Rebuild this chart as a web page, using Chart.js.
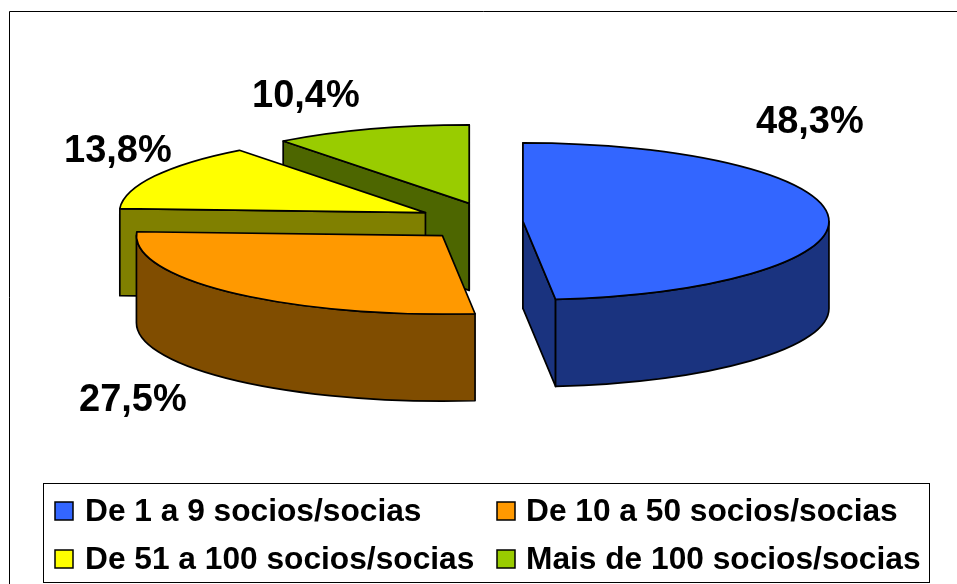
<!DOCTYPE html>
<html>
<head>
<meta charset="utf-8">
<style>html,body{margin:0;padding:0;background:#fff}canvas{display:block}</style>
<script src="https://cdn.jsdelivr.net/npm/chart.js@4/dist/chart.umd.min.js"></script>
</head>
<body>
<canvas id="c" width="957" height="584"></canvas>
<script>
const categories = ['De 1 a 9 socios/socias', 'De 10 a 50 socios/socias', 'De 51 a 100 socios/socias', 'Mais de 100 socios/socias'];
const shares = [48.3, 27.5, 13.8, 10.4];
const explode = [29.4, 74.5, 77, 76];
const topColors = ['#3366FF', '#FF9900', '#FFFF00', '#99CC00'];
const sideColors = ['#1A337F', '#804D00', '#808000', '#4D6600'];
const labelAnchors = [[756, 133], [79, 411], [64, 162], [252, 107]];
const legendCells = [[55, 502, 85, 521], [497, 502, 526, 521], [55, 550, 85, 569], [497, 550, 526, 569]];
const FONT = '"Liberation Sans", Arial, sans-serif';
const SQUASH = 0.2565, DEPTH = 87, RADIUS = 306;

const pie3d = {
  id: 'pie3d',
  beforeDatasetsDraw(chart) {
    const ctx = chart.ctx;
    const arcs = chart.getDatasetMeta(0).data;
    ctx.save();
    ctx.strokeStyle = '#000';
    ctx.lineWidth = 1.7;
    ctx.lineJoin = 'round';
    const paint = (fill) => { ctx.fillStyle = fill; ctx.fill(); ctx.stroke(); };
    [3, 2, 1, 0].forEach((i) => {
      const el = arcs[i];
      const { x, y, startAngle: s, endAngle: e, outerRadius: r } = el.getProps(['x', 'y', 'startAngle', 'endAngle', 'outerRadius'], true);
      const mid = (s + e) / 2, off = el.options.offset;
      const vx = x + Math.cos(mid) * off, vy = y + Math.sin(mid) * off * SQUASH;
      const wall = (a) => {
        const px = vx + Math.cos(a) * r, py = vy + Math.sin(a) * r * SQUASH;
        ctx.beginPath();
        ctx.moveTo(vx, vy); ctx.lineTo(px, py);
        ctx.lineTo(px, py + DEPTH); ctx.lineTo(vx, vy + DEPTH);
        ctx.closePath();
        paint(sideColors[i]);
      };
      if (Math.sin(s - Math.PI / 2) > -1e-6) wall(s);
      if (Math.cos(e) > -1e-6) wall(e);
      const a0 = Math.max(s, 0), a1 = Math.min(e, Math.PI);
      if (a1 > a0) {
        ctx.beginPath();
        ctx.ellipse(vx, vy, r, r * SQUASH, 0, a0, a1);
        ctx.ellipse(vx, vy + DEPTH, r, r * SQUASH, 0, a1, a0, true);
        ctx.closePath();
        paint(sideColors[i]);
      }
      ctx.beginPath();
      ctx.moveTo(vx, vy);
      ctx.ellipse(vx, vy, r, r * SQUASH, 0, s, e);
      ctx.closePath();
      paint(el.options.backgroundColor);
    });
    ctx.restore();
    return false;
  },
  afterDraw(chart) {
    const ctx = chart.ctx;
    ctx.save();
    ctx.strokeStyle = '#000';
    ctx.lineWidth = 1;
    ctx.beginPath();
    ctx.moveTo(9.5, 584); ctx.lineTo(9.5, 11.5); ctx.lineTo(957, 11.5);
    ctx.stroke();
    ctx.strokeRect(43.5, 483.5, 886, 99);
    ctx.fillStyle = '#000';
    ctx.textBaseline = 'alphabetic';
    ctx.textAlign = 'left';
    ctx.font = 'bold 38px ' + FONT;
    shares.forEach((v, i) => {
      ctx.fillText(v.toFixed(1).replace('.', ',') + '%', labelAnchors[i][0], labelAnchors[i][1]);
    });
    ctx.font = 'bold 31.7px ' + FONT;
    categories.forEach((name, i) => {
      const [kx, ky, tx, ty] = legendCells[i];
      ctx.fillStyle = topColors[i];
      ctx.fillRect(kx, ky, 18, 18);
      ctx.lineWidth = 1.5;
      ctx.strokeRect(kx, ky, 18, 18);
      ctx.fillStyle = '#000';
      ctx.fillText(name, tx, ty);
    });
    ctx.restore();
  }
};

new Chart(document.getElementById('c'), {
  type: 'pie',
  data: {
    labels: categories,
    datasets: [{ data: shares, backgroundColor: topColors, borderColor: '#000', borderWidth: 1.5, offset: explode, hoverOffset: 0 }]
  },
  options: {
    responsive: false,
    animation: false,
    radius: RADIUS,
    layout: { padding: { left: 30.2, right: 0, top: 0, bottom: 140.4 } },
    plugins: { legend: { display: false }, title: { display: false }, tooltip: { enabled: false } },
    events: []
  },
  plugins: [pie3d]
});
</script>
</body>
</html>
